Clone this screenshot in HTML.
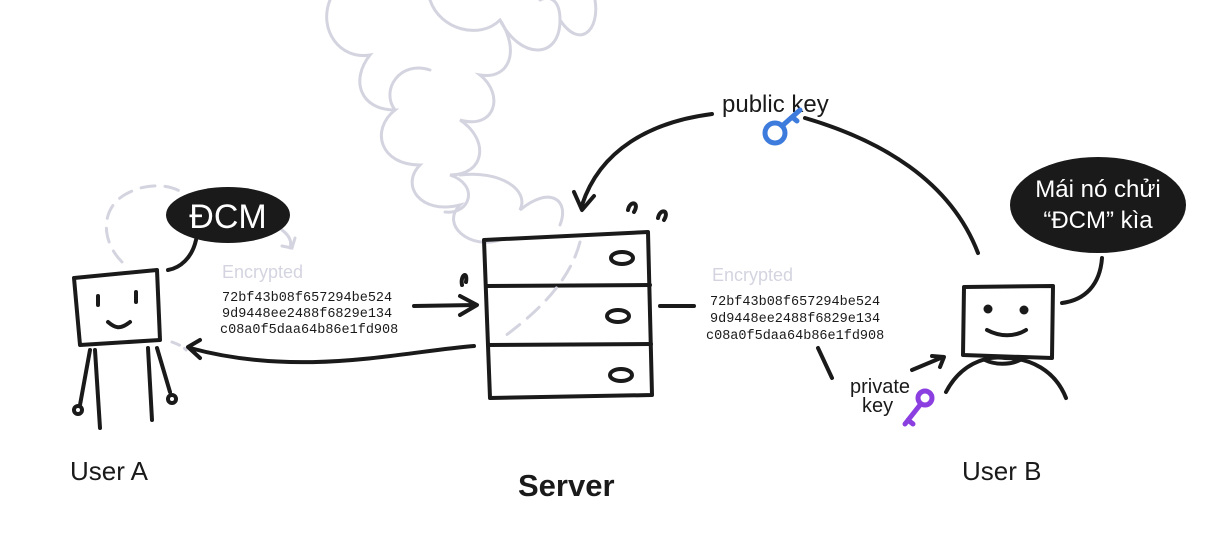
<!DOCTYPE html>
<html><head><meta charset="utf-8"><style>
html,body{margin:0;padding:0;background:#fff;}
svg{display:block;}
.h{font-family:"Liberation Sans",sans-serif;fill:#1a1a1a;}
.m{font-family:"Liberation Mono",monospace;font-size:13.5px;fill:#1a1a1a;}
.s{stroke:#1a1a1a;stroke-width:4;fill:none;stroke-linecap:round;stroke-linejoin:round;}
.g{stroke:#d4d4e0;stroke-width:3;fill:none;stroke-linecap:round;}
</style></head><body>
<svg width="1209" height="538" viewBox="0 0 1209 538" xmlns="http://www.w3.org/2000/svg">
<!-- cloud -->
<g class="g">
<path d="M330 0 C318 30 340 60 370 55 C350 80 360 110 395 110 C370 130 380 165 420 165 C400 185 420 215 460 205 C440 225 470 250 500 240"/>
<path d="M430 0 C440 30 480 40 500 20 C520 50 510 80 480 75 C505 95 495 130 460 120 C490 140 485 175 450 175 C480 185 470 215 445 212"/>
<path d="M500 20 C520 60 560 60 560 20 C560 0 550 -5 540 0"/>
<path d="M560 20 C580 50 600 30 595 0"/>
<path d="M460 175 C500 170 530 190 520 210 C550 185 570 200 560 225"/>
<path d="M395 110 C380 90 400 60 430 70"/>
</g>
<!-- User A -->
<path class="g" stroke-dasharray="14 10" d="M122 262 C100 240 100 205 130 192 C150 182 175 185 185 195"/>
<path class="g" stroke-dasharray="8 6" d="M172 342 C180 345 185 348 186 350"/>
<path class="g" d="M282 230 C290 236 292 242 290 248 M282 246 L292 248 L295 238"/>
<ellipse cx="228" cy="215" rx="62" ry="28" fill="#1a1a1a"/>
<text x="228" y="228" text-anchor="middle" class="h" style="fill:#fff;font-size:34px;">ĐCM</text>
<path class="s" d="M196 240 C192 258 180 268 168 270"/>
<path class="s" d="M74 278 L157 270 L160 340 L80 345 Z"/>
<path class="s" d="M98 296 L98 305 M136 292 L136 302 M108 322 C115 328 120 330 130 322"/>
<path class="s" d="M95 350 L100 428 M148 348 L152 420"/>
<path class="s" d="M90 350 L80 405 M157 348 L170 392"/>
<circle cx="78" cy="410" r="4" class="s" stroke-width="3"/>
<circle cx="172" cy="399" r="4" class="s" stroke-width="3"/>
<text x="70" y="480" class="h" style="font-size:26px;">User A</text>
<!-- left texts -->
<text x="222" y="278" class="h" style="fill:#d4d4e0;font-size:18px;">Encrypted</text>
<text x="222" y="301" class="m">72bf43b08f657294be524</text>
<text x="222" y="317" class="m">9d9448ee2488f6829e134</text>
<text x="220" y="333" class="m">c08a0f5daa64b86e1fd908</text>
<path class="s" d="M414 306 L476 305 M460 296 L477 305 L460 315"/>
<path class="s" d="M474 346 C400 352 300 378 190 348 M200 340 L188 347 L200 358"/>
<!-- Server -->
<path class="s" d="M484 240 L648 232 L652 395 L490 398 Z"/>
<path class="s" d="M487 286 L650 285 M488 345 L651 344"/>
<ellipse cx="622" cy="258" rx="11" ry="6" class="s" stroke-width="3"/>
<ellipse cx="618" cy="316" rx="11" ry="6" class="s" stroke-width="3"/>
<ellipse cx="621" cy="375" rx="11" ry="6" class="s" stroke-width="3"/>
<path class="g" stroke-dasharray="16 10" d="M580 242 C570 280 540 310 505 336"/>
<path class="s" stroke-width="2" d="M628 210 C630 200 640 202 634 212 M658 218 C660 208 670 210 664 220 M462 285 C460 275 468 270 466 282"/>
<text x="518" y="496" class="h" style="font-size:31px;font-weight:bold;">Server</text>
<!-- right texts -->
<path class="s" d="M660 306 L694 306"/>
<text x="712" y="281" class="h" style="fill:#d4d4e0;font-size:18px;">Encrypted</text>
<text x="710" y="305" class="m">72bf43b08f657294be524</text>
<text x="710" y="322" class="m">9d9448ee2488f6829e134</text>
<text x="706" y="339" class="m">c08a0f5daa64b86e1fd908</text>
<path class="s" d="M818 348 L832 378"/>
<path class="s" stroke-width="3" d="M912 370 L943 357 M932 356 L944 357 L940 367"/>
<text x="850" y="393" class="h" style="font-size:20px;">private</text>
<text x="862" y="412" class="h" style="font-size:20px;">key</text>
<g stroke="#8b3fe0" stroke-width="5" fill="none" stroke-linecap="round">
<circle cx="925" cy="398" r="7"/><path d="M920 405 L905 424 M908 420 L913 424"/>
</g>
<!-- public key -->
<path class="s" d="M712 114 C650 122 600 150 582 205 M574 192 L582 210 L594 196"/>
<text x="722" y="112" class="h" style="font-size:24px;">public key</text>
<g stroke="#3d7bdc" stroke-width="5" fill="none" stroke-linecap="round">
<circle cx="775" cy="133" r="10"/><path d="M782 126 L800 110 M792 117 L797 121"/>
</g>
<path class="s" d="M805 118 C880 140 950 180 978 253"/>
<!-- User B -->
<ellipse cx="1098" cy="205" rx="88" ry="48" fill="#1a1a1a"/>
<text x="1098" y="197" text-anchor="middle" class="h" style="fill:#fff;font-size:24px;">Mái nó chửi</text>
<text x="1098" y="228" text-anchor="middle" class="h" style="fill:#fff;font-size:24px;">“ĐCM” kìa</text>
<path class="s" d="M1102 258 C1100 285 1085 300 1062 303"/>
<path class="s" d="M964 287 L1053 286 L1052 358 L963 355 Z"/>
<circle cx="988" cy="309" r="4.5" fill="#1a1a1a"/><circle cx="1024" cy="310" r="4.5" fill="#1a1a1a"/>
<path class="s" d="M987 330 C1000 337 1015 337 1026 330"/>
<path class="s" d="M946 392 C960 365 985 355 1005 358 C1030 358 1055 370 1066 398"/>
<path class="s" d="M985 360 C995 365 1010 365 1020 360"/>
<text x="962" y="480" class="h" style="font-size:26px;">User B</text>
</svg>
</body></html>
